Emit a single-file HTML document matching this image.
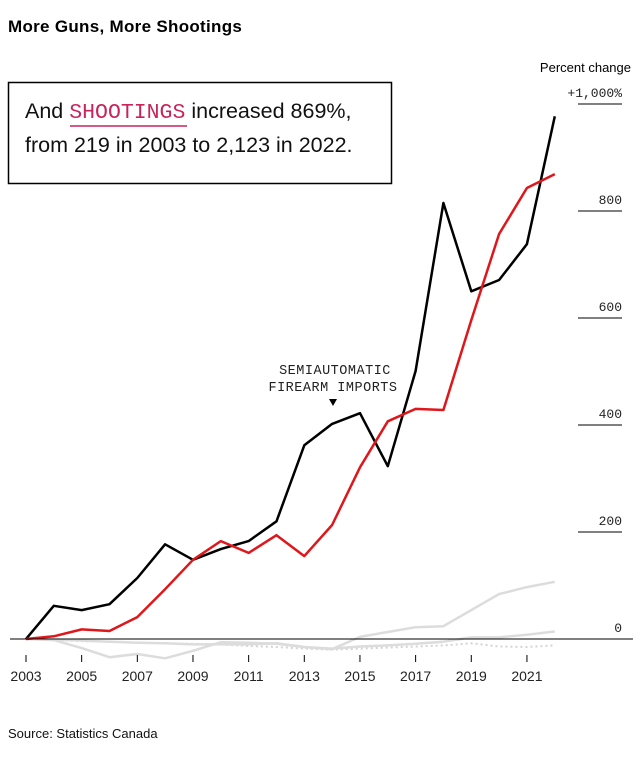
<!DOCTYPE html>
<html><head><meta charset="utf-8"><style>
body{margin:0;background:#fff;width:640px;height:761px;overflow:hidden;font-family:"Liberation Sans",sans-serif}
</style></head><body>
<svg width="640" height="761" xmlns="http://www.w3.org/2000/svg">
<text x="8" y="32" font-size="17" font-weight="bold" letter-spacing="0.3" fill="#000">More Guns, More Shootings</text>
<text x="631" y="72" font-size="13" text-anchor="end" fill="#000">Percent change</text>
<g id="grid"></g>
<g id="series"></g>
<line x1="10" y1="639" x2="633" y2="639" stroke="#000" stroke-width="1"/>
<g id="xaxis"></g>
<rect x="8.5" y="82.5" width="383" height="101" fill="#fff" stroke="#000" stroke-width="1.5"/>
<text x="25" y="118" font-size="21.5" fill="#111">And <tspan font-family="Liberation Mono, monospace" fill="#c8235a">SHOOTINGS</tspan> increased 869%,</text>
<line x1="70" y1="126" x2="187" y2="126" stroke="#c8235a" stroke-width="1.5"/>
<text x="25" y="152" font-size="21.5" fill="#111">from 219 in 2003 to 2,123 in 2022.</text>
<text x="335" y="374" font-size="13.5" letter-spacing="0.5" font-family="Liberation Mono, monospace" text-anchor="middle" fill="#222">SEMIAUTOMATIC</text>
<text x="333" y="391" font-size="13.5" letter-spacing="0.5" font-family="Liberation Mono, monospace" text-anchor="middle" fill="#222">FIREARM IMPORTS</text>
<polygon points="329,399 337,399 333,406" fill="#000"/>
<text x="8" y="738" font-size="13" fill="#111">Source: Statistics Canada</text>
</svg>
<script>
const years=[2003,2004,2005,2006,2007,2008,2009,2010,2011,2012,2013,2014,2015,2016,2017,2018,2019,2020,2021,2022];
const imports=[0,62,54,65,114,177,148,168,183,220,362,402,422,323,501,815,650,671,738,977];
const shootings=[0,5,18,15,41,93,148,183,161,194,155,213,321,407,430,428,596,757,843,869];
const grayA=[0,-2,-17,-34,-28,-36,-22,-6,-7,-9,-15,-19,4,13,22,24,54,84,97,107];
const grayB=[0,-1,-3,-5,-7,-8,-10,-10,-10,-8,-15,-18,-14,-12,-9,-5,3,3,8,14];
const grayC=[0,-2,-4,-5,-7,-8,-9,-10,-13,-15,-18,-20,-18,-16,-14,-12,-8,-14,-15,-12];
const yTicks=[0,200,400,600,800,1000];
const yTickLabels=["0","200","400","600","800","+1,000%"];
const xTickYears=[2003,2005,2007,2009,2011,2013,2015,2017,2019,2021];
const NS="http://www.w3.org/2000/svg";
const X=y=>26+(y-2003)*27.83;
const Y=v=>639-v*0.535;
const grid=document.getElementById('grid'),ser=document.getElementById('series'),xa=document.getElementById('xaxis');
function mk(t,a,p){const e=document.createElementNS(NS,t);for(const k in a)e.setAttribute(k,a[k]);p.appendChild(e);return e;}
yTicks.forEach((v,i)=>{
 if(v>0){const l=mk('line',{x1:578,x2:622,y1:Y(v),y2:Y(v),stroke:'#000','stroke-width':1},grid);
 
 }
 const t=mk('text',{x:622,y:Y(v)-7,'font-size':13,'text-anchor':'end','font-family':'Liberation Mono, monospace',fill:'#222'},grid);
 t.textContent=yTickLabels[i];
 
 
});
xTickYears.forEach(yr=>{
 const l=mk('line',{x1:X(yr),x2:X(yr),y1:655,y2:662,stroke:'#000','stroke-width':1},xa);
 
 
 const t=mk('text',{x:X(yr),y:681,'font-size':14,'text-anchor':'middle',fill:'#222'},xa);
 t.textContent=yr;
 
 
});
function line(vals,stroke,w,dash,name){
 const d=vals.map((v,i)=>(i?'L':'M')+X(years[i]).toFixed(1)+','+Y(v).toFixed(1)).join(' ');
 const p=mk('path',{d:d,fill:'none',stroke:stroke,'stroke-width':w,'stroke-linejoin':'round'},ser);
 if(dash)p.setAttribute('stroke-dasharray',dash);
 
 
}
line(grayC,'#d4d4d4',2,'2,3','gray-dotted-series');
line(grayB,'#dcdcdc',2.5,null,'gray-series-b');
line(grayA,'#dcdcdc',2.5,null,'gray-series-a');
line(imports,'#000',2.5,null,'imports-line');
line(shootings,'#e0161b',2.5,null,'shootings-line');
</script>
</body></html>
